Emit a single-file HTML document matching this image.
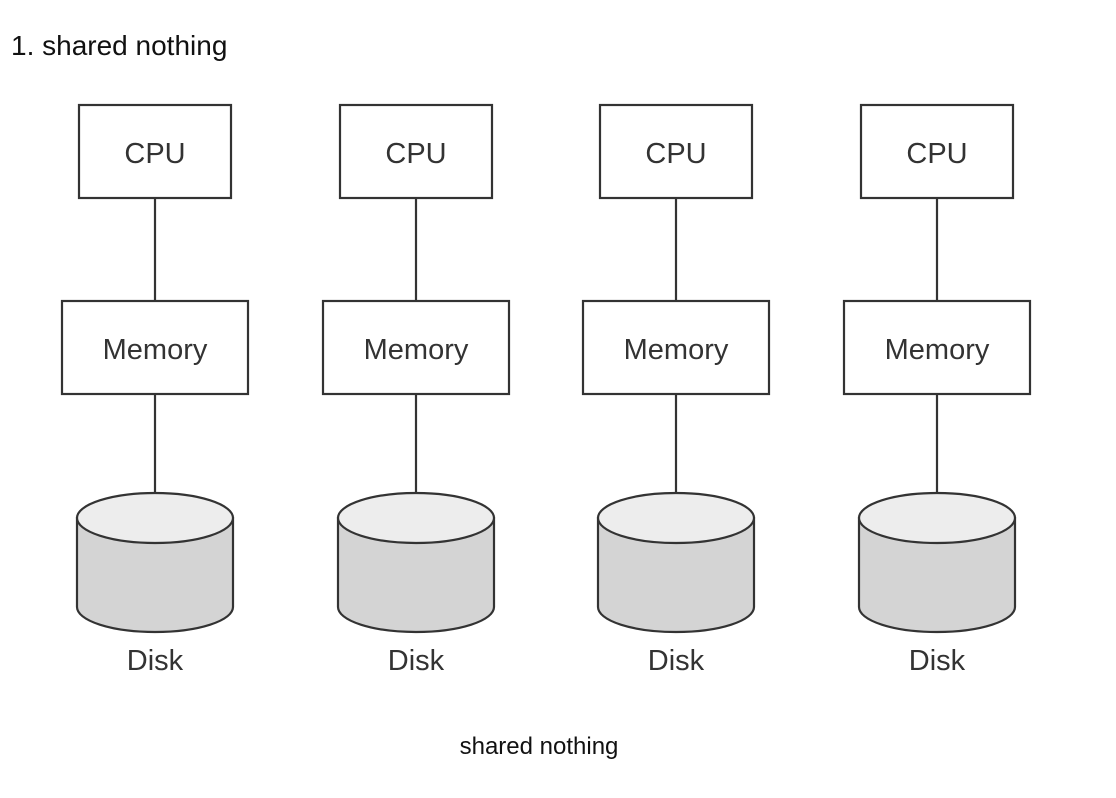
<!DOCTYPE html>
<html><head><meta charset="utf-8"><style>
html,body{margin:0;padding:0;background:#fff;width:1116px;height:798px;overflow:hidden}
</style></head><body>
<svg width="1116" height="798" xmlns="http://www.w3.org/2000/svg" style="display:block">
<text x="11" y="55" font-family="Liberation Sans, sans-serif" font-size="28" fill="#111">1. shared nothing</text>
<g stroke="#333" stroke-width="2.2">
<g transform="translate(0,0)">
<line x1="155" y1="198" x2="155" y2="301"/><line x1="155" y1="394" x2="155" y2="494"/>
<rect x="79" y="105" width="152" height="93" fill="#fff"/>
<rect x="62" y="301" width="186" height="93" fill="#fff"/>
<path d="M77,518 L77,607 A78,25 0 0 0 233,607 L233,518 Z" fill="#d4d4d4"/>
<ellipse cx="155" cy="518" rx="78" ry="25" fill="#ededed"/>
</g>
<g transform="translate(261,0)">
<line x1="155" y1="198" x2="155" y2="301"/><line x1="155" y1="394" x2="155" y2="494"/>
<rect x="79" y="105" width="152" height="93" fill="#fff"/>
<rect x="62" y="301" width="186" height="93" fill="#fff"/>
<path d="M77,518 L77,607 A78,25 0 0 0 233,607 L233,518 Z" fill="#d4d4d4"/>
<ellipse cx="155" cy="518" rx="78" ry="25" fill="#ededed"/>
</g>
<g transform="translate(521,0)">
<line x1="155" y1="198" x2="155" y2="301"/><line x1="155" y1="394" x2="155" y2="494"/>
<rect x="79" y="105" width="152" height="93" fill="#fff"/>
<rect x="62" y="301" width="186" height="93" fill="#fff"/>
<path d="M77,518 L77,607 A78,25 0 0 0 233,607 L233,518 Z" fill="#d4d4d4"/>
<ellipse cx="155" cy="518" rx="78" ry="25" fill="#ededed"/>
</g>
<g transform="translate(782,0)">
<line x1="155" y1="198" x2="155" y2="301"/><line x1="155" y1="394" x2="155" y2="494"/>
<rect x="79" y="105" width="152" height="93" fill="#fff"/>
<rect x="62" y="301" width="186" height="93" fill="#fff"/>
<path d="M77,518 L77,607 A78,25 0 0 0 233,607 L233,518 Z" fill="#d4d4d4"/>
<ellipse cx="155" cy="518" rx="78" ry="25" fill="#ededed"/>
</g>
</g>
<g font-family="Liberation Sans, sans-serif" font-size="29" fill="#333" text-anchor="middle">
<text x="155" y="163">CPU</text><text x="416" y="163">CPU</text><text x="676" y="163">CPU</text><text x="937" y="163">CPU</text>
<text x="155" y="359">Memory</text><text x="416" y="359">Memory</text><text x="676" y="359">Memory</text><text x="937" y="359">Memory</text>
<text x="155" y="670">Disk</text><text x="416" y="670">Disk</text><text x="676" y="670">Disk</text><text x="937" y="670">Disk</text>
</g>
<text x="539" y="754" font-family="Liberation Sans, sans-serif" font-size="24" fill="#111" text-anchor="middle">shared nothing</text>
</svg>
</body></html>
